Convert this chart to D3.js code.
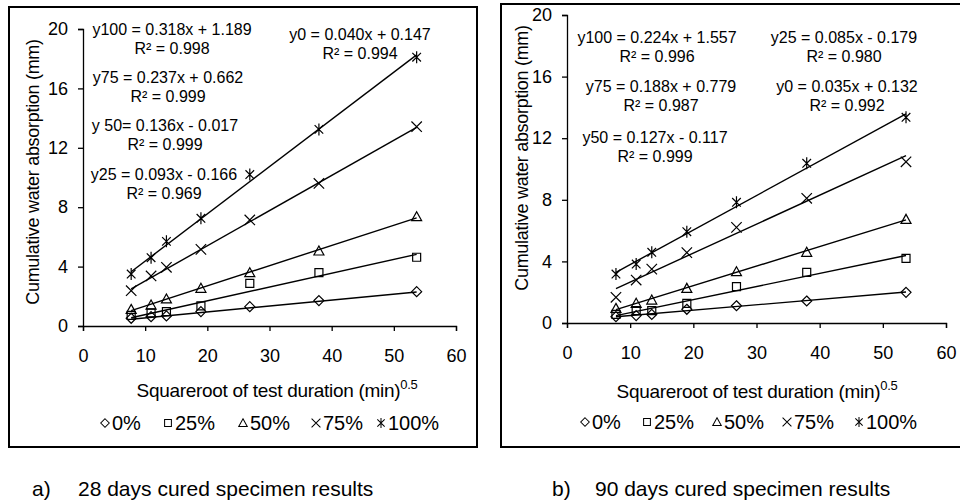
<!DOCTYPE html>
<html>
<head>
<meta charset="utf-8">
<script src="https://cdn.jsdelivr.net/npm/d3@7"></script>
<style>
  body { margin: 0; background: #fff; }
  svg { display: block; font-family: Arial, "Liberation Sans", sans-serif; }
  .axis path, .axis line { stroke: #000; stroke-width: 1.3; }
  .axis text { font-size: 18px; fill: #000; }
</style>
</head>
<body>
<div id="gr"></div>
<script>
// sqrt of test duration (min)^0.5 : 60, 120, 180, 360, 720, 1440, 2880 min
var xVals = [7.75, 10.95, 13.42, 18.97, 26.83, 37.95, 53.67];
var seriesNames = ["0%", "25%", "50%", "75%", "100%"];

// 28 days cured
var y28_0 = [0.52, 0.63, 0.68, 0.97, 1.30, 1.71, 2.31];
var y28_25 = [0.72, 0.88, 0.97, 1.35, 2.87, 3.59, 4.63];
var y28_50 = [1.12, 1.41, 1.82, 2.54, 3.59, 5.05, 7.36];
var y28_75 = [2.38, 3.37, 3.95, 5.16, 7.14, 9.60, 13.42];
var y28_100 = [3.50, 4.60, 5.70, 7.25, 10.20, 13.24, 18.10];
var slope28 = [0.040, 0.093, 0.136, 0.237, 0.318];
var icept28 = [0.147, -0.166, -0.017, 0.662, 1.189];
var eq28 = ["y0 = 0.040x + 0.147", "y25 = 0.093x - 0.166", "y 50= 0.136x - 0.017", "y75 = 0.237x + 0.662", "y100 = 0.318x + 1.189"];
var r2_28 = ["R\u00b2 = 0.994", "R\u00b2 = 0.969", "R\u00b2 = 0.999", "R\u00b2 = 0.999", "R\u00b2 = 0.998"];

// 90 days cured
var y90_0 = [0.41, 0.48, 0.56, 0.89, 1.12, 1.43, 1.99];
var y90_25 = [0.56, 0.80, 0.80, 1.28, 2.36, 3.29, 4.20];
var y90_50 = [0.95, 1.28, 1.49, 2.25, 3.33, 4.59, 6.73];
var y90_75 = [1.67, 2.79, 3.50, 4.57, 6.21, 8.10, 10.47];
var y90_100 = [3.18, 3.83, 4.59, 5.93, 7.84, 10.37, 13.36];
var slope90 = [0.035, 0.085, 0.127, 0.188, 0.224];
var icept90 = [0.132, -0.179, -0.117, 0.779, 1.557];
var eq90 = ["y0 = 0.035x + 0.132", "y25 = 0.085x - 0.179", "y50 = 0.127x - 0.117", "y75 = 0.188x + 0.779", "y100 = 0.224x + 1.557"];
var r2_90 = ["R\u00b2 = 0.992", "R\u00b2 = 0.980", "R\u00b2 = 0.999", "R\u00b2 = 0.987", "R\u00b2 = 0.996"];

var xTicks = [0, 10, 20, 30, 40, 50, 60];
var yTicks = [0, 4, 8, 12, 16, 20];

var width = 960, height = 502;

var svg = d3.select("#gr").append("svg").
attr("width", width).
attr("height", height);

// marker shapes, one per series
var markers = [
  "M0,-5L5,0L0,5L-5,0Z",
  "M-4,-4H4V4H-4Z",
  "M0,-5L5,4H-5Z",
  "M-5.2,-5.2L5.2,5.2M-5.2,5.2L5.2,-5.2",
  "M-4.3,-4.3L4.3,4.3M-4.3,4.3L4.3,-4.3M0,-6V6"
];

function drawPanel(p) {
  var g = svg.append("g");

  g.append("rect").
  attr("x", p.box[0]).attr("y", p.box[1]).
  attr("width", p.box[2]).attr("height", p.box[3]).
  attr("fill", "none").attr("stroke", "#000").attr("stroke-width", 2);

  var xScale = d3.scaleLinear().domain([0, 60]).range(p.xr);
  var yScale = d3.scaleLinear().domain([0, 20]).range(p.yr);

  var xAxis = d3.axisBottom(xScale).tickValues(xTicks).tickSize(5).tickPadding(18).tickSizeOuter(5);
  var yAxis = d3.axisLeft(yScale).tickValues(yTicks).tickSize(5).tickPadding(10).tickSizeOuter(5);

  g.append("g").attr("class", "axis").
  attr("transform", "translate(0," + p.yr[0] + ")").
  call(xAxis);

  g.append("g").attr("class", "axis").
  attr("transform", "translate(" + p.xr[0] + ",0)").
  call(yAxis);

  // trend lines
  p.series.forEach(function (s, i) {
    var x0 = d3.min(xVals), x1 = d3.max(xVals);
    g.append("line").
    attr("x1", xScale(x0)).attr("y1", yScale(p.slope[i] * x0 + p.icept[i])).
    attr("x2", xScale(x1)).attr("y2", yScale(p.slope[i] * x1 + p.icept[i])).
    attr("stroke", "#000").attr("stroke-width", 1.4);
  });

  // points
  p.series.forEach(function (s, i) {
    g.selectAll(null).
    data(s).
    enter().
    append("path").
    attr("d", markers[i]).
    attr("transform", function (d, j) {return "translate(" + xScale(xVals[j]) + "," + yScale(d) + ")";}).
    attr("fill", "none").
    attr("stroke", "#000").
    attr("stroke-width", 1.2);
  });

  // equations
  p.labels.forEach(function (l) {
    g.append("text").
    attr("x", l.x).attr("y", l.y).
    attr("text-anchor", "middle").
    style("font-size", "16px").
    text(p.eq[l.i]);
    g.append("text").
    attr("x", l.x).attr("y", l.y + 19).
    attr("text-anchor", "middle").
    style("font-size", "16px").
    text(p.r2[l.i]);
  });

  // axis titles
  g.append("text").
  attr("transform", "translate(" + p.ylab[0] + "," + p.ylab[1] + ") rotate(-90)").
  attr("text-anchor", "middle").
  style("font-size", "18px").
  style("letter-spacing", "-0.3px").
  text("Cumulative water absorption (mm)");

  var xt = g.append("text").
  attr("x", p.xlab[0]).attr("y", p.xlab[1]).
  attr("text-anchor", "middle").
  style("font-size", "19px").
  style("letter-spacing", "-0.3px");
  xt.append("tspan").text("Squareroot of test duration (min)");
  xt.append("tspan").attr("dy", -8).style("font-size", "13px").text("0.5");

  // legend
  seriesNames.forEach(function (n, i) {
    var lx = p.leg[i];
    g.append("path").
    attr("d", markers[i]).
    attr("transform", "translate(" + lx + "," + (p.legY - 7) + ") scale(0.85)").
    attr("fill", "none").attr("stroke", "#000").attr("stroke-width", 1.2);
    g.append("text").
    attr("x", lx + 7).attr("y", p.legY).
    style("font-size", "20px").
    text(n);
  });

  // caption
  g.append("text").
  attr("x", p.cap[0]).attr("y", p.cap[1]).
  style("font-size", "21px").
  text(p.capLetter);
  g.append("text").
  attr("x", p.cap[2]).attr("y", p.cap[1]).
  style("font-size", "21px").
  text(p.capText);
}

drawPanel({
  box: [9, 7, 468, 440],
  xr: [83, 456],
  yr: [326, 29],
  series: [y28_0, y28_25, y28_50, y28_75, y28_100],
  slope: slope28, icept: icept28, eq: eq28, r2: r2_28,
  labels: [
    { i: 4, x: 172, y: 35 },
    { i: 3, x: 168, y: 83 },
    { i: 2, x: 165, y: 131 },
    { i: 1, x: 164, y: 180 },
    { i: 0, x: 360, y: 40 }
  ],
  ylab: [39, 172],
  xlab: [277, 397],
  leg: [105, 168, 243, 316, 381], legY: 430,
  cap: [32, 496, 78],
  capLetter: "a)",
  capText: "28 days cured specimen results"
});

drawPanel({
  box: [501, 4, 470, 443],
  xr: [567, 946],
  yr: [323, 15],
  series: [y90_0, y90_25, y90_50, y90_75, y90_100],
  slope: slope90, icept: icept90, eq: eq90, r2: r2_90,
  labels: [
    { i: 4, x: 657, y: 43 },
    { i: 1, x: 844, y: 43 },
    { i: 3, x: 661, y: 92 },
    { i: 0, x: 847, y: 92 },
    { i: 2, x: 655, y: 143 }
  ],
  ylab: [528, 158],
  xlab: [757, 398],
  leg: [585, 647, 717, 787, 859], legY: 429,
  cap: [552, 496, 595],
  capLetter: "b)",
  capText: "90 days cured specimen results"
});
</script>
</body>
</html>
